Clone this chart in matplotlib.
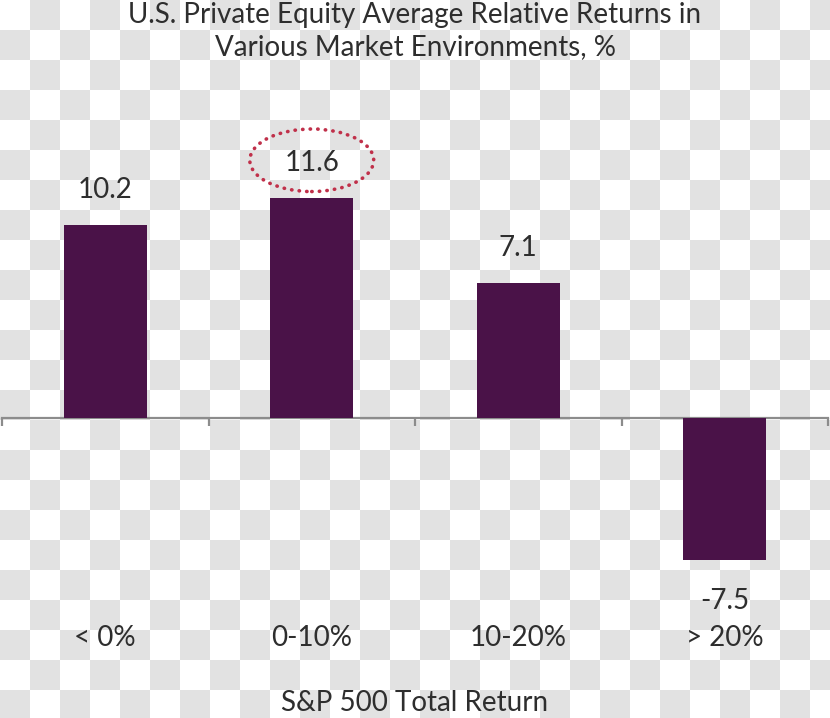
import numpy as np
import matplotlib
matplotlib.use("Agg")
import matplotlib.pyplot as plt
from matplotlib.patches import Ellipse
from matplotlib import transforms

# Data
categories = ["< 0%", "0-10%", "10-20%", "> 20%"]
values = [10.2, 11.6, 7.1, -7.5]
highlight = 1  # circled bar

title = "U.S. Private Equity Average Relative Returns in\nVarious Market Environments, %"
xlabel = "S&P 500 Total Return"

bar_color = "#4a1248"
text_color = "#2e2e2e"
font = ["Lato", "DejaVu Sans"]

W, H = 830, 718
fig = plt.figure(figsize=(W / 100, H / 100), dpi=100)

# transparent-style checkerboard background
cell = 30
ny, nx = H // cell + 1, W // cell + 1
board = (np.add.outer(np.arange(ny), np.arange(nx)) % 2).astype(float)
rgb = np.where(board[..., None] == 1, 0.89, 1.0) * np.ones(3)
img = np.repeat(np.repeat(rgb, cell, axis=0), cell, axis=1)[:H, :W]
fig.figimage(img[::-1], xo=0, yo=0, zorder=-5, origin="lower")

# axes placed so that zero sits at y=418 px
top_px, bot_px = 100, 580
scale = 18.95
ymax = (418 - top_px) / scale
ymin = (418 - bot_px) / scale
ax = fig.add_axes([2 / W, (H - bot_px) / H, 826 / W, (bot_px - top_px) / H])
ax.set_facecolor("none")
ax.set_zorder(2)

x = np.arange(len(categories))
ax.bar(x, values, width=0.4, color=bar_color, zorder=3)
ax.set_xlim(-0.5, len(categories) - 0.5)
ax.set_ylim(ymin, ymax)

for s in ["top", "right", "left"]:
    ax.spines[s].set_visible(False)
ax.spines["bottom"].set_position(("data", 0))
ax.spines["bottom"].set_color("#8c8c8c")
ax.spines["bottom"].set_linewidth(1.6)
ax.set_yticks([])
ax.set_xticks(np.arange(-0.5, len(categories), 1.0))
ax.set_xticklabels([])
ax.tick_params(axis="x", direction="out", length=6, width=1.6, color="#8c8c8c")

# value labels
for xi, v in zip(x, values):
    off = 1.85 if v >= 0 else -2.15
    ax.text(xi, v + off, f"{v:.1f}", ha="center", va="center", fontsize=20,
            color=text_color, family=font)

# dotted ellipse around the highlighted value
ell = Ellipse((highlight, values[highlight] + 2.0), width=0.6, height=3.3,
              fill=False, edgecolor="#c0304a", linestyle=(0, (0.1, 2.0)),
              linewidth=2.6, capstyle="round", zorder=4)
ax.add_patch(ell)

# category labels
trans = transforms.blended_transform_factory(ax.transData, fig.transFigure)
for xi, c in zip(x, categories):
    fig.text(xi, 1 - 638 / H, c, transform=trans, ha="center", va="center",
             fontsize=20, color=text_color, family=font, zorder=3)

fig.text(0.5, 1 - 703 / H, xlabel, ha="center", va="center", fontsize=20,
         color=text_color, family=font, zorder=3)
fig.text(0.5, 1 - 31 / H, title, ha="center", va="center", fontsize=20,
         color=text_color, family=font, linespacing=1.25, zorder=3)

fig.savefig("out.png", dpi=100)
